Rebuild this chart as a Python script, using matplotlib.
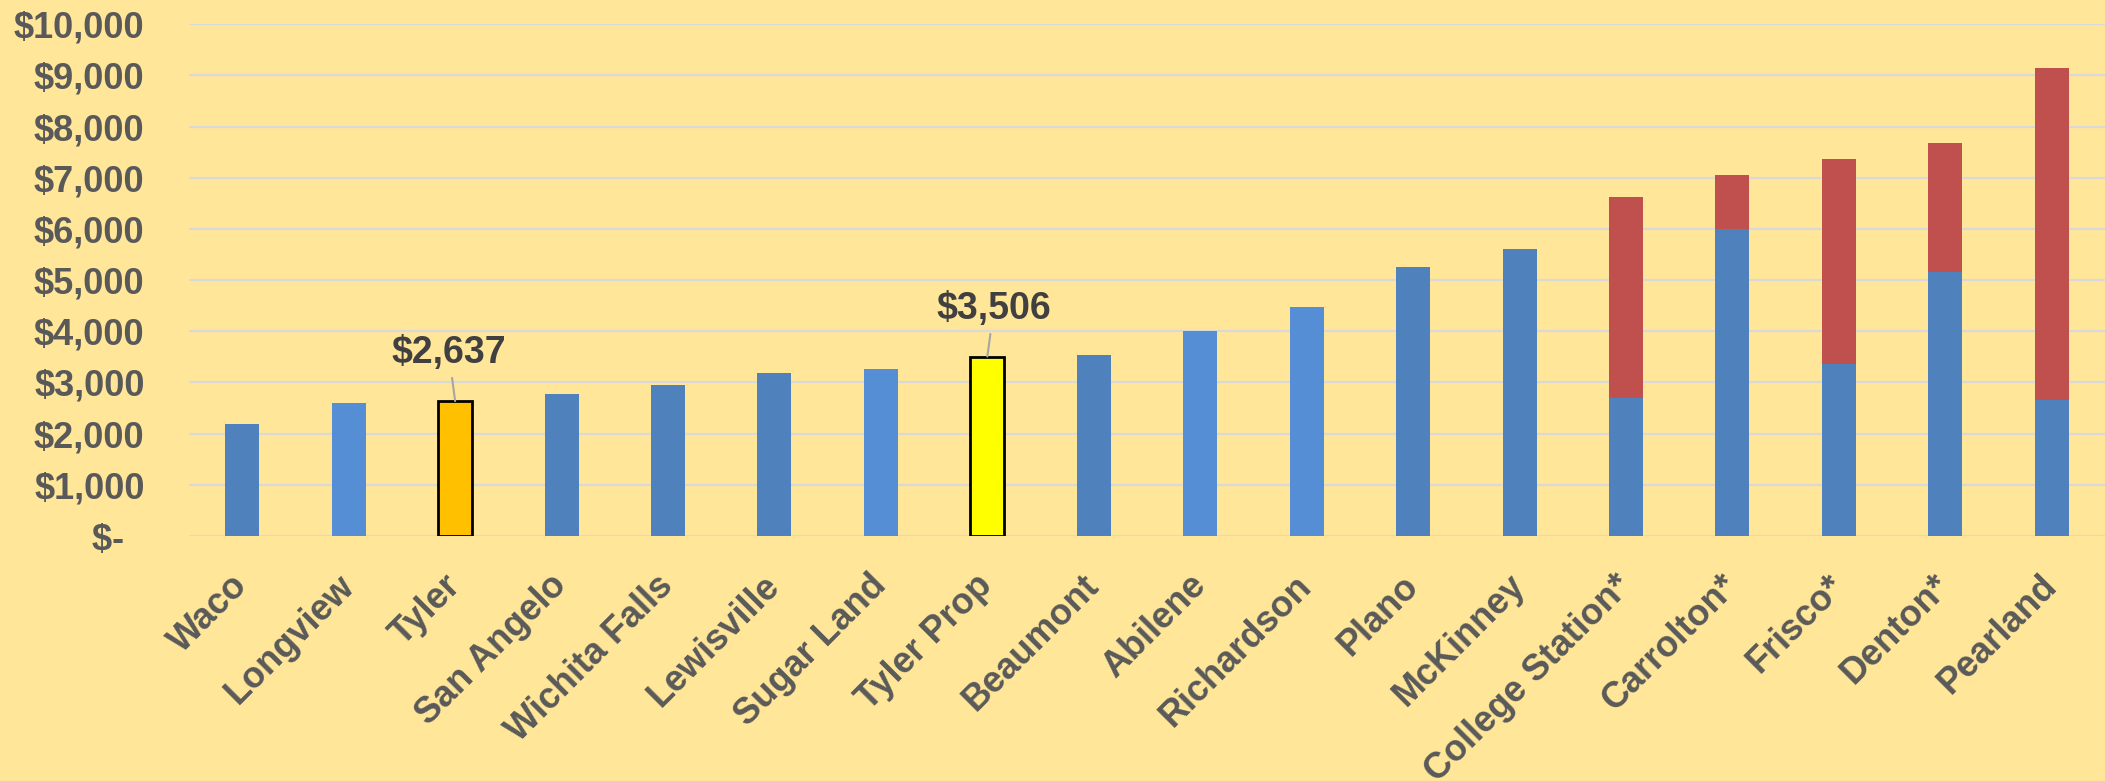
import matplotlib
matplotlib.use("Agg")
import matplotlib.pyplot as plt
import numpy as np

# Data
cities = ["Waco", "Longview", "Tyler", "San Angelo", "Wichita Falls", "Lewisville",
          "Sugar Land", "Tyler Prop", "Beaumont", "Abilene", "Richardson", "Plano",
          "McKinney", "College Station*", "Carrolton*", "Frisco*", "Denton*", "Pearland"]
base = [2190, 2600, 2637, 2780, 2960, 3180, 3260, 3506, 3545, 4000, 4470, 5250,
        5606, 2700, 6000, 3360, 5150, 2650]
extra = [0, 0, 0, 0, 0, 0, 0, 0, 0, 0, 0, 0,
         0, 3920, 1050, 4010, 2520, 6490]
yticks = [0, 1000, 2000, 3000, 4000, 5000, 6000, 7000, 8000, 9000, 10000]
ytick_labels = ["$-  ", "$1,000", "$2,000", "$3,000", "$4,000", "$5,000",
                "$6,000", "$7,000", "$8,000", "$9,000", "$10,000"]
labelled = {"Tyler": "$2,637", "Tyler Prop": "$3,506"}

# colours
BG = "#FFE699"
DARK = "#4F81BD"
LIGHT = "#558ED5"
RED = "#C0504D"
light_ones = ["Longview", "Sugar Land", "Abilene", "Richardson"]
special = {"Tyler": "#FFC000", "Tyler Prop": "#FFFF00"}

plt.rcParams['font.family'] = ['Liberation Sans', 'DejaVu Sans']

fig = plt.figure(figsize=(21.05, 7.81), dpi=100, facecolor=BG)
ax = fig.add_axes([0.0898, 0.3137, 0.9102, 0.6553])
ax.set_facecolor(BG)

x = np.arange(len(cities))
width = 0.32
for i, c in enumerate(cities):
    if c in special:
        ax.bar(x[i], base[i], width, color=special[c], edgecolor="black", linewidth=2, zorder=3)
    else:
        col = LIGHT if c in light_ones else DARK
        ax.bar(x[i], base[i], width, color=col, zorder=3)
    if extra[i] > 0:
        ax.bar(x[i], extra[i], width, bottom=base[i], color=RED, zorder=3)

# data labels with leader lines
label_pos = {"Tyler": (-0.06, 3576), "Tyler Prop": (0.06, 4434)}
for c, txt in labelled.items():
    i = cities.index(c)
    dx, ty = label_pos[c]
    ax.annotate(txt, xy=(x[i], base[i]), xytext=(x[i] + dx, ty),
                ha="center", va="center", fontsize=27, fontweight="bold", color="#404040",
                arrowprops=dict(arrowstyle="-", color="#A6A6A6", lw=1.5, shrinkA=3, shrinkB=0),
                zorder=5)

ax.set_xlim(-0.5, len(cities) - 0.5)
ax.set_ylim(0, 10000)
ax.set_yticks(yticks)
ax.set_yticklabels(ytick_labels)
ax.yaxis.grid(True, color="#D9D9D9", linewidth=1.6, zorder=0)
ax.set_axisbelow(True)
for s in ax.spines.values():
    s.set_visible(False)

ax.tick_params(axis="y", length=0, pad=32, labelsize=26, labelcolor="#595959")
for t in ax.get_yticklabels():
    t.set_fontweight("bold")

ax.set_xticks(x)
ax.set_xticklabels(cities, rotation=45, ha="right", va="center", rotation_mode="anchor",
                   fontsize=26, fontweight="bold", color="#595959")
ax.tick_params(axis="x", length=0, pad=32)

fig.savefig("out.png", dpi=100, facecolor=BG)
